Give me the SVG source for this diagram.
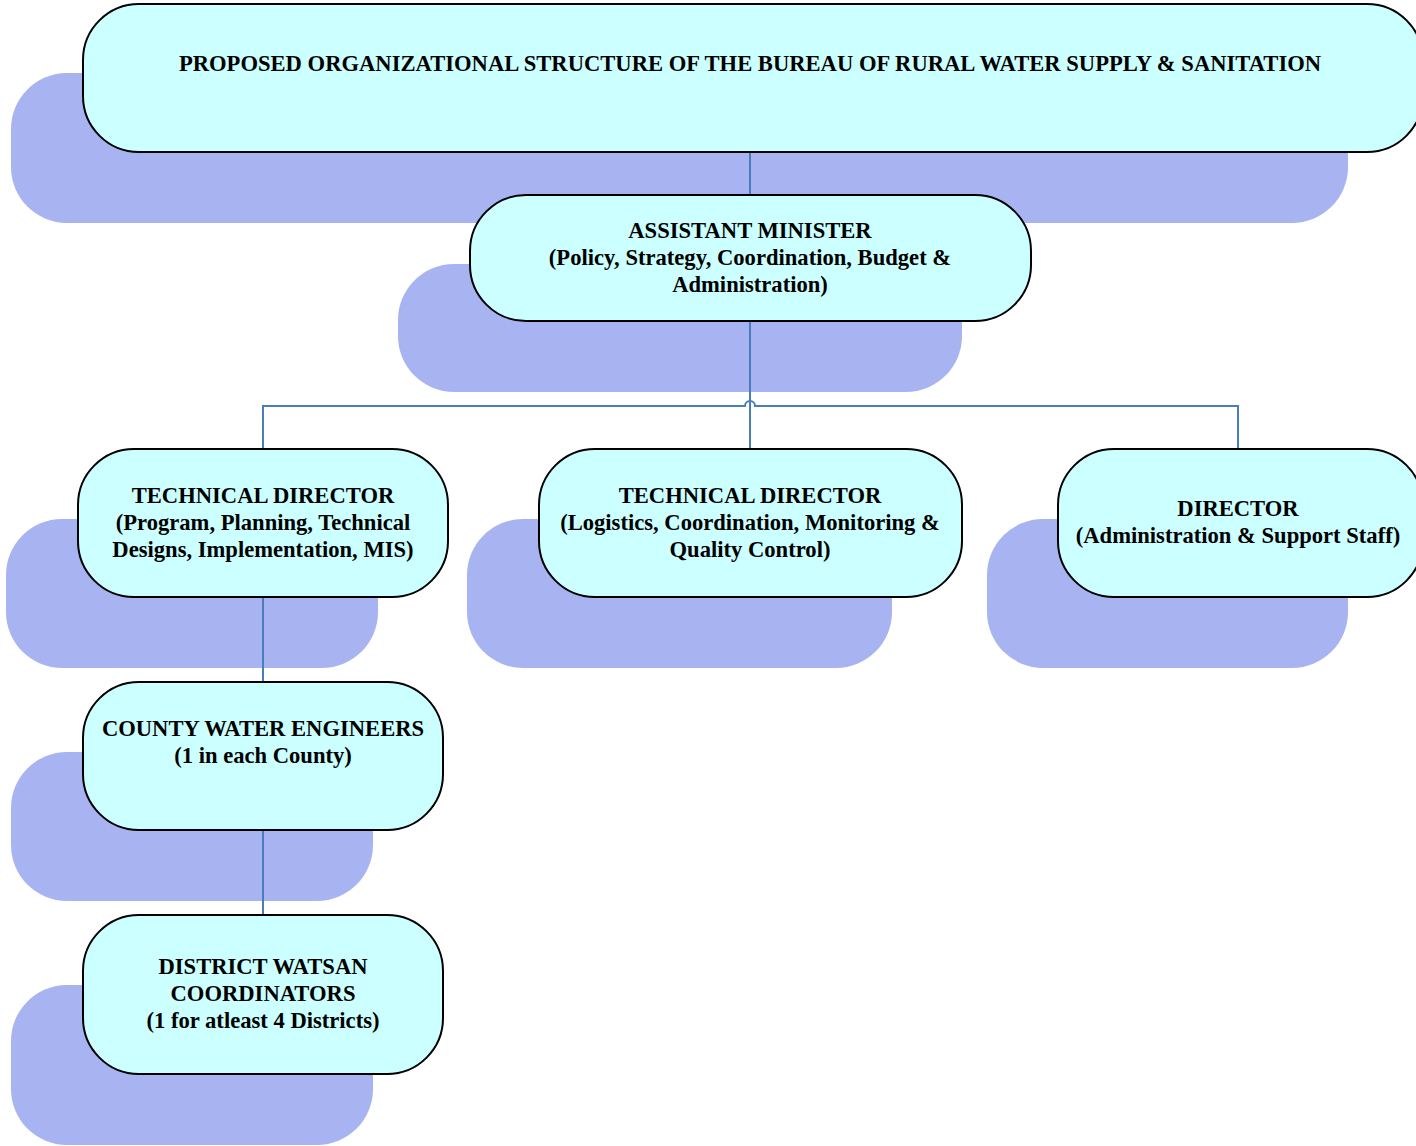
<svg xmlns="http://www.w3.org/2000/svg" width="1416" height="1146" viewBox="0 0 1416 1146">
<style>
.sh{fill:#a8b4f2;}
.bx{fill:#ccffff;stroke:#000;stroke-width:2;}
.t{font-family:"Liberation Serif","Times New Roman",serif;font-weight:bold;font-size:22.6px;fill:#000;text-anchor:middle;}
.c{fill:none;stroke:#4a7ebb;stroke-width:2;}
</style>
<rect width="1416" height="1146" fill="#fff"/>
<g id="shadows">
<rect class="sh" x="11" y="73" width="1337" height="150" rx="56"/>
<rect class="sh" x="398" y="264" width="564" height="128" rx="56"/>
<rect class="sh" x="6" y="519" width="372" height="149" rx="56"/>
<rect class="sh" x="467" y="519" width="425" height="149" rx="56"/>
<rect class="sh" x="987" y="519" width="361" height="149" rx="56"/>
<rect class="sh" x="11" y="752" width="362" height="149" rx="56"/>
<rect class="sh" x="11" y="985" width="362" height="160" rx="56"/>
</g>
<g id="connectors">
<path class="c" d="M750 152V195"/>
<path class="c" d="M750 321V449"/>
<path class="c" d="M263 449V406H745A5 5 0 0 1 755 406H1238V449"/>
<path class="c" d="M263 597V682"/>
<path class="c" d="M263 830V915"/>
</g>
<g id="title">
<rect class="bx" x="83" y="4" width="1340" height="148" rx="56"/>
<text class="t" x="750" y="71">PROPOSED ORGANIZATIONAL STRUCTURE OF THE BUREAU OF RURAL WATER SUPPLY &amp; SANITATION</text>
</g>
<g id="assistant-minister">
<rect class="bx" x="470" y="195" width="561" height="126" rx="56"/>
<text class="t" x="750" y="238">ASSISTANT MINISTER</text>
<text class="t" x="750" y="265">(Policy, Strategy, Coordination, Budget &amp;</text>
<text class="t" x="750" y="292">Administration)</text>
</g>
<g id="tech-director-1">
<rect class="bx" x="78" y="449" width="370" height="148" rx="56"/>
<text class="t" x="263" y="503">TECHNICAL DIRECTOR</text>
<text class="t" x="263" y="530">(Program, Planning, Technical</text>
<text class="t" x="263" y="557">Designs, Implementation, MIS)</text>
</g>
<g id="tech-director-2">
<rect class="bx" x="539" y="449" width="423" height="148" rx="56"/>
<text class="t" x="750" y="503">TECHNICAL DIRECTOR</text>
<text class="t" x="750" y="530">(Logistics, Coordination, Monitoring &amp;</text>
<text class="t" x="750" y="557">Quality Control)</text>
</g>
<g id="director">
<rect class="bx" x="1058" y="449" width="365" height="148" rx="56"/>
<text class="t" x="1238" y="516">DIRECTOR</text>
<text class="t" x="1238" y="543">(Administration &amp; Support Staff)</text>
</g>
<g id="county">
<rect class="bx" x="83" y="682" width="360" height="148" rx="56"/>
<text class="t" x="263" y="736">COUNTY WATER ENGINEERS</text>
<text class="t" x="263" y="763">(1 in each County)</text>
</g>
<g id="district">
<rect class="bx" x="83" y="915" width="360" height="159" rx="56"/>
<text class="t" x="263" y="974">DISTRICT WATSAN</text>
<text class="t" x="263" y="1001">COORDINATORS</text>
<text class="t" x="263" y="1028">(1 for atleast 4 Districts)</text>
</g>
</svg>
